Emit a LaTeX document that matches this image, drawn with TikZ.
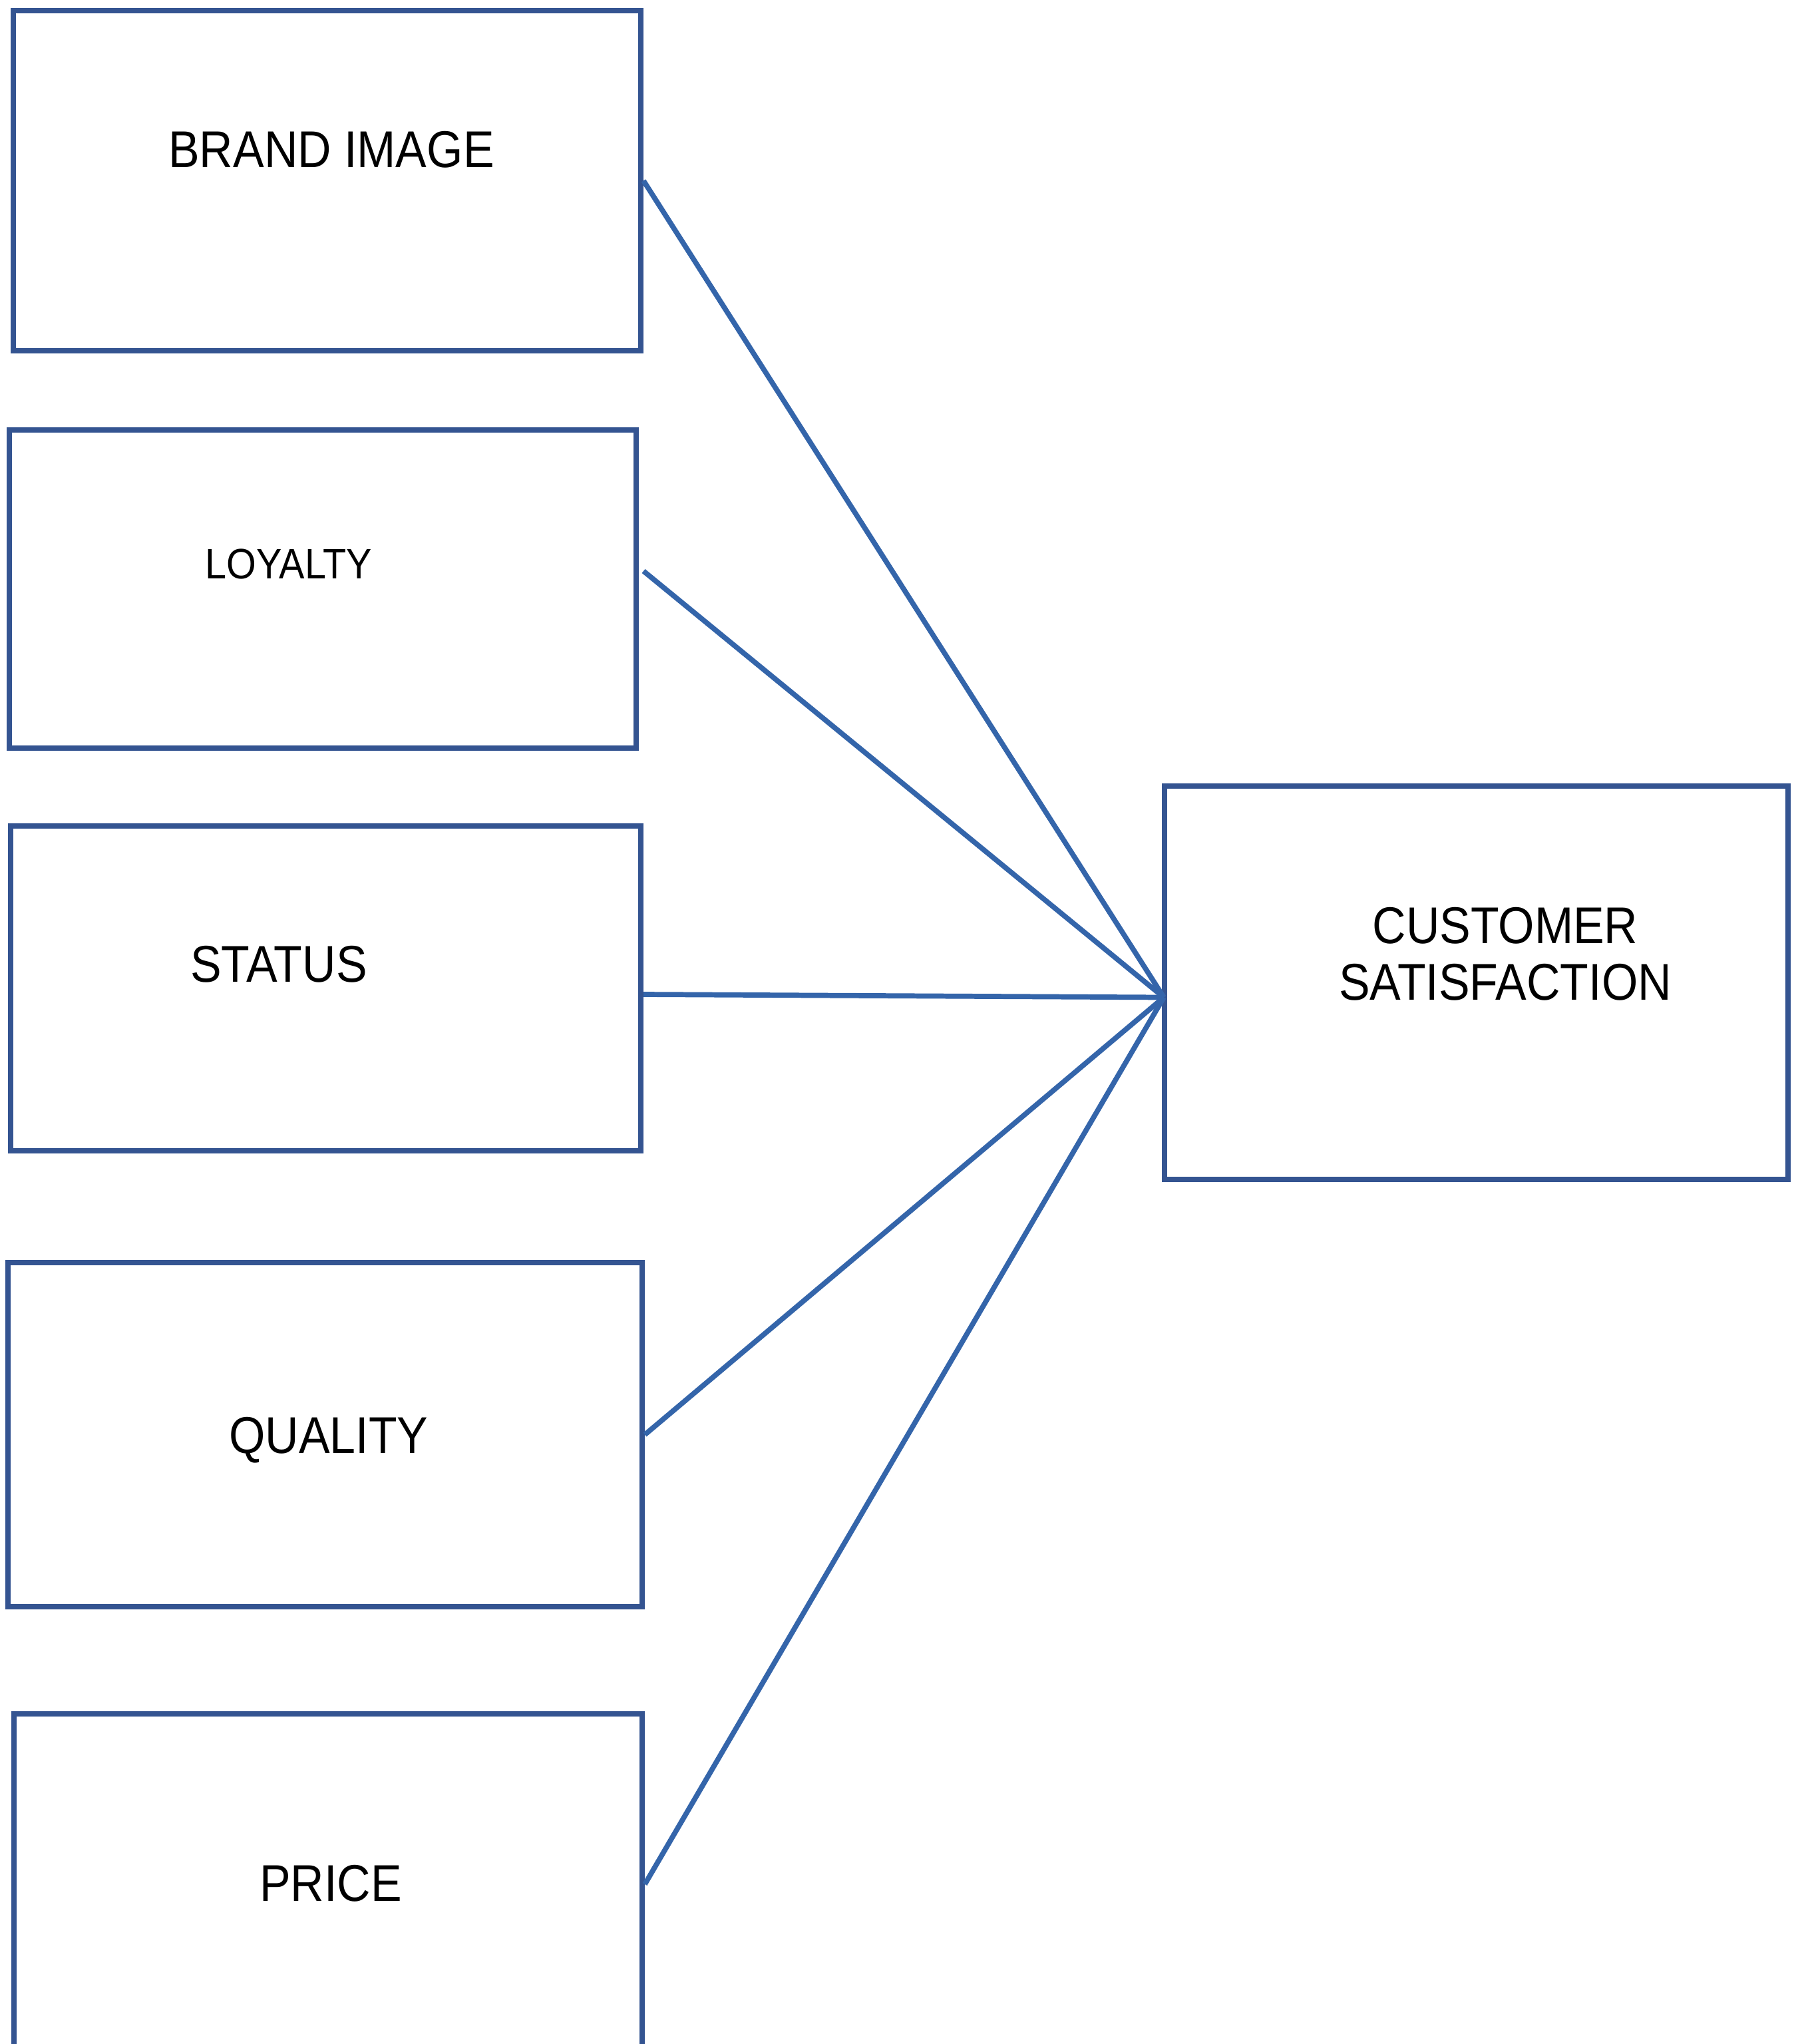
\documentclass[tikz,border=0pt]{standalone}
\usepackage{fontspec}
\setmainfont{Liberation Sans}[FakeStretch=0.9]
\usetikzlibrary{calc}
\definecolor{boxblue}{RGB}{52,84,145}
\definecolor{lineblue}{RGB}{52,101,170}
\begin{document}
\begin{tikzpicture}[box/.style={draw=boxblue,line width=2.3pt,rectangle,inner sep=0pt},
				link/.style={draw=lineblue,line width=2.2pt},
				txt/.style={anchor=base,inner sep=0pt,font=\fontsize{22.1}{24.1}\selectfont},
				small/.style={anchor=base,inner sep=0pt,font=\fontsize{18.2}{20}\selectfont}]
\clip (0,0) rectangle (27.14,-30.71);
\fill[white] (0,0) rectangle (27.14,-30.71);
% boxes
\node[box,minimum width=9.43cm,minimum height=5.11cm] (brand) at (4.915,-2.715) {};
\node[box,minimum width=9.42cm,minimum height=4.78cm] (loyal) at (4.85,-8.85) {};
\node[box,minimum width=9.47cm,minimum height=4.88cm] (status) at (4.895,-14.85) {};
\node[box,minimum width=9.53cm,minimum height=5.17cm] (quality) at (4.885,-21.555) {};
\node[box,minimum width=9.44cm,minimum height=6.0cm] (price) at (4.93,-28.75) {};
\node[box,minimum width=9.37cm,minimum height=5.91cm] (cust) at (22.185,-14.765) {};
% labels
\node[txt] (brandtxt) at (4.98,-2.51) {BRAND IMAGE};
\node[small] (loyaltxt) at (4.34,-8.69) {LOYALTY};
\node[txt] (statustxt) at (4.19,-14.75) {STATUS};
\node[txt] (qualitytxt) at (4.94,-21.83) {QUALITY};
\node[txt] (pricetxt) at (4.97,-28.56) {PRICE};
\node[txt,align=center] (custtxt) at (22.62,-15.02) {CUSTOMER\\SATISFACTION};
% links
\coordinate (hub) at ([xshift=0.03cm,yshift=-0.22cm]cust.west);
\draw[link] (brand.east) -- (hub);
\draw[link] ([xshift=0.07cm,yshift=0.27cm]loyal.east) -- (hub);
\draw[link] ([yshift=-0.09cm]status.east) -- (hub);
\draw[link] (quality.east) -- (hub);
\draw[link] ([yshift=-2.6cm]price.north east) -- (hub);
\end{tikzpicture}
\end{document}
